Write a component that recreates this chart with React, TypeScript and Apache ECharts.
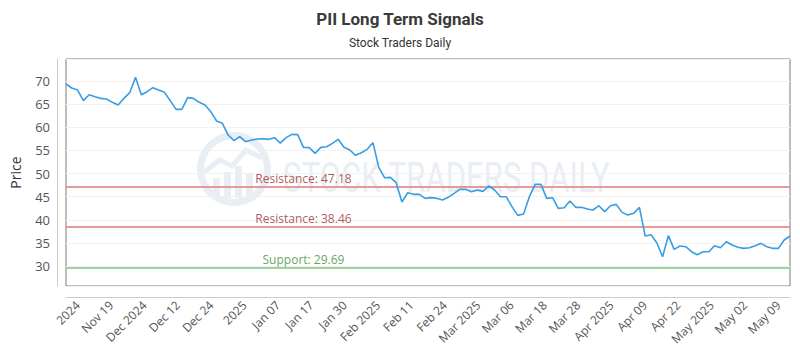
import React, { useEffect, useRef } from "react";
import * as echarts from "echarts";

const chartTitle = "PII Long Term Signals";
const chartSubtitle = "Stock Traders Daily";
const yAxisName = "Price";
const watermarkText = "STOCK TRADERS DAILY";

const tickLabels = [
  "2024", "Nov 19", "Dec 2024", "Dec 12", "Dec 24", "2025", "Jan 07", "Jan 17",
  "Jan 30", "Feb 2025", "Feb 11", "Feb 24", "Mar 2025", "Mar 06", "Mar 18",
  "Mar 28", "Apr 2025", "Apr 09", "Apr 22", "May 2025", "May 02", "May 09",
];

const prices = [
  69.35, 68.49, 68.05, 65.75, 67.04, 66.61, 66.25, 66.11, 65.39, 64.81,
  66.25, 67.48, 70.79, 67.04, 67.69, 68.56, 68.05, 67.55, 65.75, 63.87,
  63.87, 66.4, 66.25, 65.39, 64.81, 63.37, 61.35, 60.85, 58.32, 57.1,
  57.96, 56.88, 57.24, 57.46, 57.53, 57.39, 57.75,
  56.59, 57.75, 58.47, 58.4, 55.66, 55.59, 54.36, 55.66, 55.8, 56.52,
  57.39, 55.66, 55.08, 53.93, 54.5, 55.23, 56.67, 51.33, 49.1, 49.17,
  48.02, 43.84, 45.86, 45.5, 45.5, 44.63, 44.78, 44.63, 44.27, 44.85,
  45.71, 46.58, 46.58, 46.07, 46.43, 46.14, 47.3, 46.43, 44.99, 44.99,
  42.83, 40.95,
  41.24, 44.99, 47.66, 47.66, 44.63, 44.77, 42.47, 42.61, 44.05, 42.69,
  42.69, 42.32, 42.11, 43.04, 41.75, 43.04, 43.33, 41.6, 41.03, 41.39, 42.69,
  36.49, 36.77, 35.04, 32.02, 36.56, 33.6, 34.32, 34.18, 33.1, 32.45,
  33.1, 33.1, 34.4, 33.96, 35.26, 34.54, 34.04, 33.82, 33.96, 34.4,
  34.9, 34.18, 33.82, 33.82, 35.62, 36.49,
];

const levelNames = ["Resistance", "Resistance", "Support"];
const levelValues = [47.18, 38.46, 29.69];
const levelKinds = ["res", "res", "sup"];

const yMin = 25.68;
const yMax = 74.76;

export default function App() {
  const ref = useRef<HTMLDivElement>(null);
  useEffect(() => {
    if (!ref.current) return;
    const chart = echarts.init(ref.current, null, { renderer: "svg" });
    const categories = prices.map((_, i) => String(i));
    const labelIdx = 41;
    const lineColor = { res: "#e59a9a", sup: "#9dd49a" };
    const textColor = { res: "#9b2d2d", sup: "#3f8a35" };
    const wm = "#e9eef4";
    const option: any = {
      animation: false,
      backgroundColor: "#fff",
      title: {
        text: chartTitle,
        subtext: chartSubtitle,
        left: "center",
        top: 5,
        itemGap: 10,
        textStyle: { fontFamily: "Roboto", fontSize: 17, fontWeight: "bold", color: "#3a3a3a" },
        subtextStyle: { fontFamily: "Roboto", fontSize: 12, color: "#333" },
      },
      graphic: [
        {
          type: "ring",
          silent: true,
          z: -10,
          shape: { cx: 234, cy: 169, r: 37, r0: 30 },
          style: { fill: wm },
        },
        {
          type: "group",
          silent: true,
          z: -10,
          children: [
            { type: "rect", shape: { x: 213, y: 178, width: 7, height: 18 }, style: { fill: wm } },
            { type: "rect", shape: { x: 224, y: 172, width: 7, height: 26 }, style: { fill: wm } },
            { type: "rect", shape: { x: 235, y: 166, width: 7, height: 32 }, style: { fill: wm } },
            { type: "rect", shape: { x: 246, y: 174, width: 7, height: 22 }, style: { fill: wm } },
            {
              type: "polyline",
              shape: { points: [[204, 172], [220, 160], [232, 166], [246, 150], [262, 158]] },
              style: { stroke: wm, lineWidth: 5, fill: "none" },
            },
          ],
        },
        {
          type: "text",
          silent: true,
          z: -10,
          x: 283,
          y: 178,
          scaleX: 0.74,
          style: {
            text: watermarkText,
            fontFamily: "Roboto",
            fontSize: 42,
            fill: wm,
            textAlign: "left",
            textVerticalAlign: "middle",
          },
        },
      ],
      grid: [
        { left: 60, right: 10, top: 59, bottom: 64, show: true, borderColor: "#7a7a7a", borderWidth: 1, backgroundColor: "transparent" },
        { left: 61, right: 5, top: 59, bottom: 64, show: false },
      ],
      xAxis: [
        {
          type: "category",
          gridIndex: 0,
          data: categories,
          boundaryGap: false,
          offset: 11,
          axisLine: { show: true, lineStyle: { color: "#cccccc", width: 1 } },
          axisTick: { show: false },
          axisLabel: { show: false },
          splitLine: { show: false },
        },
        {
          type: "category",
          gridIndex: 1,
          data: tickLabels,
          boundaryGap: true,
          offset: 11,
          axisLine: { show: false },
          axisTick: { show: false },
          axisLabel: {
            interval: 0,
            rotate: 45,
            margin: 6,
            color: "#555",
            fontSize: 12,
            fontFamily: "Open Sans",
          },
        },
      ],
      yAxis: [
        {
          type: "value",
          gridIndex: 0,
          min: yMin,
          max: yMax,
          splitNumber: 10,
          offset: 9,
          name: yAxisName,
          nameLocation: "middle",
          nameGap: 35,
          nameTextStyle: { fontFamily: "Open Sans", fontSize: 14, color: "#333" },
          axisLine: { show: true, lineStyle: { color: "#cccccc", width: 1 } },
          axisTick: { show: false },
          axisLabel: {
            margin: 7,
            color: "#555",
            fontSize: 13,
            fontFamily: "Open Sans",
            showMinLabel: false,
            showMaxLabel: false,
            formatter: (v: number) => (Math.abs(v % 5) < 1e-6 ? String(v) : ""),
          },
          splitLine: { show: true, lineStyle: { color: "#f1f1f1", width: 1 } },
        },
        { type: "value", gridIndex: 1, show: false },
      ],
      series: [
        {
          type: "line",
          xAxisIndex: 0,
          yAxisIndex: 0,
          data: prices,
          showSymbol: false,
          symbol: "none",
          lineStyle: { color: "#3a9de3", width: 1.6 },
          z: 5,
        },
        {
          type: "scatter",
          xAxisIndex: 0,
          yAxisIndex: 0,
          symbolSize: 0,
          silent: true,
          z: 4,
          data: levelValues.map((v, i) => ({
            name: levelNames[i],
            value: [labelIdx, v],
            label: {
              show: true,
              position: "top",
              distance: 2,
              formatter: `${levelNames[i]}: ${v.toFixed(2)}`,
              color: (textColor as any)[levelKinds[i]],
              fontFamily: "Open Sans",
              fontSize: 12,
            },
          })),
          markLine: {
            silent: true,
            symbol: "none",
            label: { show: false },
            data: levelValues.map((v, i) => ({
              yAxis: v,
              lineStyle: { color: (lineColor as any)[levelKinds[i]], width: 2, type: "solid" },
            })),
          },
        },
      ],
    };
    chart.setOption(option);
    return () => chart.dispose();
  }, []);
  return (
    <div
      ref={ref}
      style={{ position: "fixed", left: 0, top: 0, width: 800, height: 350 }}
    />
  );
}
